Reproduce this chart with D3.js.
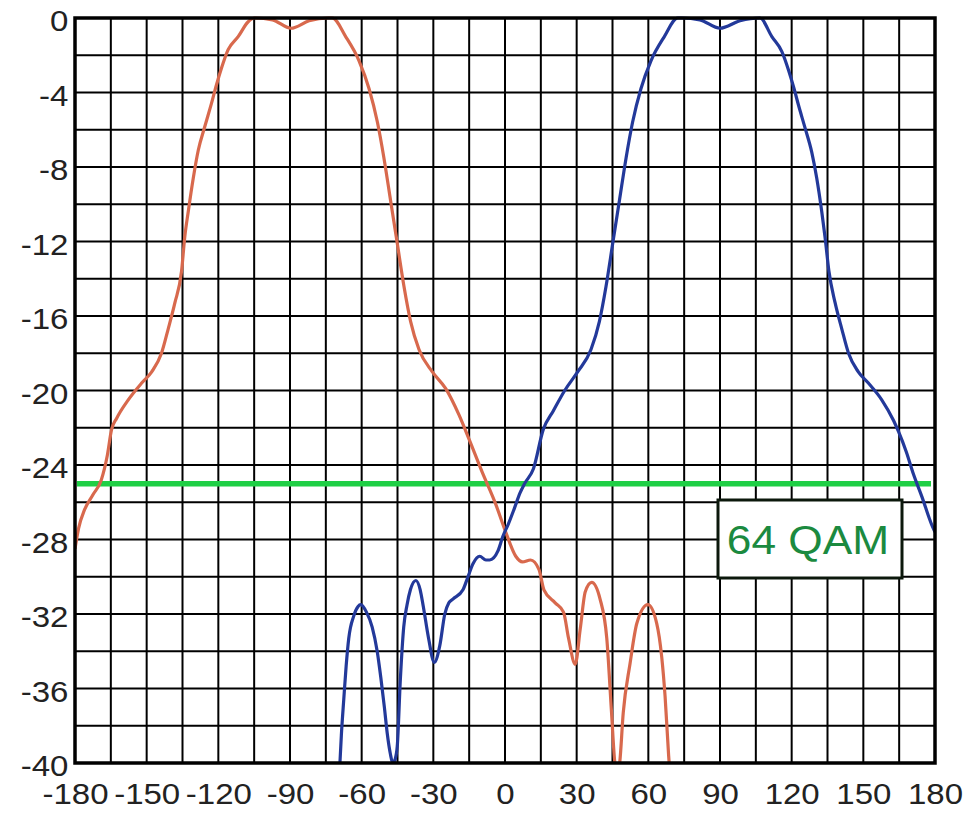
<!DOCTYPE html>
<html>
<head>
<meta charset="utf-8">
<script src="https://cdn.jsdelivr.net/npm/d3@7"></script>
<style>
  html, body { margin: 0; padding: 0; background: #fff; }
  svg { display: block; }
</style>
</head>
<body>
<svg id="chart" width="976" height="815"></svg>
<script>
// ---- Data ----
const xTicks = [-180, -150, -120, -90, -60, -30, 0, 30, 60, 90, 120, 150, 180];
const yTicks = [0, -4, -8, -12, -16, -20, -24, -28, -32, -36, -40];
const thresholdValue = -25;
const thresholdLabel = "64 QAM";

// orange pattern: angle (deg) and level (dB)
const orangeAngles = [-180, -178.5, -176, -172.5, -169, -166.5, -164.7, -162.6, -157.7, -152.1, -147.9, -143.8, -141, -138.2, -135.4, -134, -132.6, -130.5, -128.4, -125.6, -122.9, -120.8, -118.7, -115.9, -111.7, -107.5, -104.7, -97.3, -89.6, -82, -74, -72.3, -66.7, -61.1, -56.9, -53.4, -50.7, -47.9, -45.1, -42.3, -39.5, -36, -30.4, -24.8, -19.3, -15.1, -9.5, -3.9, 0.3, 4.5, 7.3, 10.7, 14.2, 16.3, 21, 24.5, 26.6, 29.4, 31.5, 33.6, 36.3, 39.8, 42.6, 44.6, 46, 47, 48, 49.5, 52.3, 55.2, 59.8, 63.5, 65.6, 67, 68.5, 69];
const orangeLevels = [-28.5, -27.4, -26.4, -25.6, -24.8, -23.5, -22.1, -21.5, -20.5, -19.6, -19, -18, -16.7, -15.3, -13.6, -11.7, -10.4, -8.6, -7.1, -5.8, -4.6, -3.6, -2.7, -1.7, -1, -0.2, 0, -0.1, -0.55, -0.15, 0, 0, -1, -2.3, -3.8, -5.6, -7.5, -9.8, -12.1, -14.4, -16.3, -17.8, -19, -19.9, -21.3, -22.6, -24.4, -26.1, -27.6, -28.9, -29.2, -29.1, -29.6, -30.7, -31.4, -31.9, -33.3, -34.7, -32.8, -30.8, -30.3, -31.2, -33.3, -37.3, -40, -40.5, -40, -37.3, -34.7, -32.5, -31.5, -32.5, -34.3, -36.4, -39.6, -40.5];

// blue pattern
const blueAngles = [-69.5, -68.5, -67.5, -66.5, -65.4, -63.3, -61.5, -60.4, -58, -55.6, -53.5, -52, -50.5, -49.3, -48, -47, -46, -45.1, -43.8, -42.4, -41, -39.6, -37.3, -35.5, -34.2, -32, -29.6, -27.3, -25.2, -23.5, -21.8, -17.6, -15.5, -13.4, -10.6, -8, -6.4, -2.9, -0.8, 1.3, 4, 6.3, 8.2, 11.9, 16, 20.2, 25, 30.4, 36, 39.5, 42.3, 45.1, 47.9, 50.7, 53.4, 56.9, 61.1, 66.7, 72.3, 74, 81.6, 90, 98.4, 106.7, 111.7, 115.9, 118.7, 120.8, 122.9, 125.6, 128.4, 130.5, 132.6, 134, 135.6, 138.2, 141, 143.8, 147.9, 152.1, 157.7, 162.6, 164.7, 168, 171, 174.5, 178.6, 180];
const blueLevels = [-41, -38.5, -36.6, -34.8, -33.3, -32.1, -31.6, -31.5, -31.9, -32.7, -34, -35.4, -37, -38.4, -39.5, -40, -39.8, -39.1, -35.5, -32.7, -31.5, -30.7, -30.2, -30.7, -31.6, -33.3, -34.6, -33.7, -32, -31.4, -31.2, -30.7, -30, -29.3, -28.9, -29.1, -29.1, -28.6, -27.8, -27.2, -26.3, -25.5, -25.0, -24.2, -22.1, -21.1, -20, -19, -17.8, -16.3, -14.4, -12.1, -9.8, -7.5, -5.6, -3.8, -2.3, -1, 0, 0, -0.1, -0.55, -0.15, 0, -1, -1.8, -2.8, -3.7, -4.7, -5.9, -7.2, -8.6, -10.4, -11.8, -13.6, -15.3, -16.7, -18, -19, -19.6, -20.5, -21.6, -22.2, -23.3, -24.5, -25.7, -27.2, -27.6];

// ---- Drawing ----
const svg = d3.select("#chart");
const W = 976, H = 815;
const mLeft = 75, mRight = 935, mTop = 18, mBottom = 763;

svg.append("rect").attr("width", W).attr("height", H).attr("fill", "#fff");

const x = d3.scaleLinear().domain([-180, 180]).range([mLeft, mRight]);
const y = d3.scaleLinear().domain([-40, 0]).range([mBottom, mTop]);

const gridX = d3.range(-165, 180, 15);
const gridY = d3.range(-38, 0, 2);

const grid = svg.append("g").attr("stroke", "#000").attr("stroke-width", 2);
grid.selectAll("line.v").data(gridX).join("line").attr("class", "v")
  .attr("x1", d => x(d)).attr("x2", d => x(d))
  .attr("y1", mTop).attr("y2", mBottom);
grid.selectAll("line.h").data(gridY).join("line").attr("class", "h")
  .attr("x1", mLeft).attr("x2", mRight)
  .attr("y1", d => y(d)).attr("y2", d => y(d));

svg.append("defs").append("clipPath").attr("id", "plotclip")
  .append("rect").attr("x", mLeft).attr("y", mTop - 2)
  .attr("width", mRight - mLeft).attr("height", mBottom - mTop + 1);

// threshold line
svg.append("line")
  .attr("x1", x(-180) + 2).attr("x2", x(180) - 4)
  .attr("y1", y(thresholdValue)).attr("y2", y(thresholdValue))
  .attr("stroke", "#1fcf45").attr("stroke-width", 5.5);

const line = d3.line()
  .x(d => x(d[0])).y(d => y(d[1]))
  .curve(d3.curveMonotoneX);

const orange = d3.zip(orangeAngles, orangeLevels);
const blue = d3.zip(blueAngles, blueLevels);

const curves = svg.append("g").attr("clip-path", "url(#plotclip)");
curves.append("path").datum(orange)
  .attr("d", line).attr("fill", "none")
  .attr("stroke", "#d8694d").attr("stroke-width", 3.2)
  .attr("stroke-linejoin", "round");
curves.append("path").datum(blue)
  .attr("d", line).attr("fill", "none")
  .attr("stroke", "#23399a").attr("stroke-width", 3.2)
  .attr("stroke-linejoin", "round");

// frame
svg.append("rect")
  .attr("x", mLeft).attr("y", mTop)
  .attr("width", mRight - mLeft).attr("height", mBottom - mTop)
  .attr("fill", "none").attr("stroke", "#000").attr("stroke-width", 3.5);

// axes
const fontFam = "'Liberation Sans', Arial, Helvetica, sans-serif";
const fmt = d => String(d);
const xAxis = svg.append("g")
  .attr("transform", `translate(0,${mBottom})`)
  .call(d3.axisBottom(x).tickValues(xTicks).tickSize(0).tickPadding(20).tickFormat(fmt));
xAxis.select(".domain").remove();
xAxis.selectAll("text")
  .attr("font-family", fontFam).attr("font-size", 30).attr("fill", "#222")
  .attr("transform", "scale(1.1,1)");

const yAxis = svg.append("g")
  .attr("transform", `translate(${mLeft},0)`)
  .call(d3.axisLeft(y).tickValues(yTicks).tickSize(0).tickPadding(6).tickFormat(fmt));
yAxis.select(".domain").remove();
yAxis.selectAll("text")
  .attr("font-family", fontFam).attr("font-size", 30).attr("fill", "#222")
  .attr("dy", "0.42em")
  .attr("transform", "scale(1.1,1)");

// label box
const bx = 718, by = 500, bw = 184, bh = 78;
svg.append("rect")
  .attr("x", bx).attr("y", by).attr("width", bw).attr("height", bh)
  .attr("fill", "#fff").attr("stroke", "#0c180c").attr("stroke-width", 3);
svg.append("text")
  .attr("transform", `translate(${bx + bw / 2 - 2},${by + bh / 2 + 15}) scale(1.08,1)`)
  .attr("text-anchor", "middle")
  .attr("font-family", fontFam).attr("font-size", 41)
  .attr("fill", "#1b8a3f")
  .text(thresholdLabel);
</script>
</body>
</html>
